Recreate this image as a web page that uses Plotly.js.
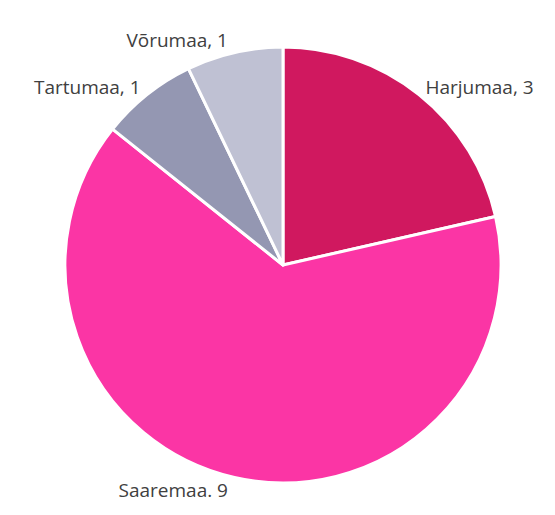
<!DOCTYPE html>
<html>
<head>
<meta charset="utf-8">
<script src="https://cdn.plot.ly/plotly-3.0.1.min.js"></script>
<style>html,body{margin:0;padding:0;background:#fff;}#chart{width:555px;height:515px;}</style>
</head>
<body>
<div id="chart"></div>
<script>
const categories = ["Harjumaa", "Saaremaa", "Tartumaa", "Võrumaa"];
const values = [3, 9, 1, 1];
const labelTexts = ["Harjumaa, 3", "Saaremaa. 9", "Tartumaa, 1", "Võrumaa, 1"];
const colors = ["#D0185F", "#FB35A5", "#9497B2", "#BFC1D3"];

Plotly.newPlot("chart", [{
  type: "pie",
  labels: categories,
  values: values,
  text: labelTexts,
  textinfo: "text",
  textposition: "outside",
  sort: false,
  direction: "clockwise",
  rotation: 0,
  marker: {colors: colors, line: {color: "#ffffff", width: 3}},
  outsidetextfont: {family: "Open Sans, sans-serif", size: 19, color: "#404040"},
  hoverinfo: "none",
  automargin: false
}], {
  width: 555, height: 515,
  margin: {l: 65, r: 54, t: 47, b: 32},
  showlegend: false,
  paper_bgcolor: "#ffffff",
  font: {family: "Open Sans, sans-serif", color: "#404040"}
}, {displayModeBar: false, staticPlot: true});
</script>
</body>
</html>
